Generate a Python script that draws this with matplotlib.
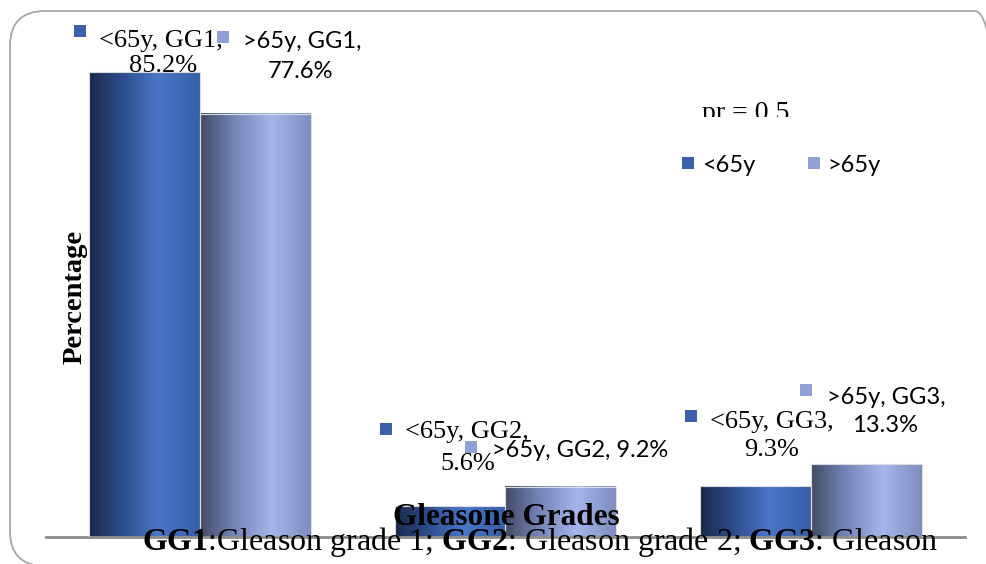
import numpy as np
import matplotlib.pyplot as plt
from matplotlib.patches import FancyBboxPatch, Rectangle
from matplotlib.colors import LinearSegmentedColormap
from matplotlib.transforms import IdentityTransform, Bbox

plt.rcParams['mathtext.fontset'] = 'custom'
plt.rcParams['mathtext.rm'] = 'Liberation Serif'
plt.rcParams['mathtext.bf'] = 'Liberation Serif:bold'

# data
grades = ['GG1', 'GG2', 'GG3']
under65 = [85.2, 5.6, 9.3]
over65 = [77.6, 9.2, 13.3]
series = ['<65y', '>65y']
pr_text = 'pr = 0.5'

W, H = 987, 564
ID = IdentityTransform()
SERIF = 'Liberation Serif'
SANS = ['Lato', 'DejaVu Sans']

fig = plt.figure(figsize=(W / 100, H / 100), dpi=100)
ax = fig.add_axes([46 / W, (H - 537) / H, (965 - 46) / W, (537 - 10) / H])

# rounded outer frame
frame = FancyBboxPatch((10, -2), 1000, 555, boxstyle='round,pad=0,rounding_size=35',
                       transform=ID, fill=False, ec='#a6a6a6', lw=1.3)
fig.add_artist(frame)

x = np.arange(len(grades))
w = 0.362
ax.set_xlim(-0.504, 2.504)
ax.set_ylim(0, 96.6)

cmap_u = LinearSegmentedColormap.from_list(
    'u', [(0, '#1a294a'), (0.3, '#2d4d8c'), (0.62, '#4b75c7'), (1, '#3560a6')])
cmap_o = LinearSegmentedColormap.from_list(
    'o', [(0, '#424a64'), (0.3, '#7383b6'), (0.65, '#a6b6ea'), (1, '#7d8dc0')])
grad = np.linspace(0, 1, 256)[None, :]

bars_u = ax.bar(x - w / 2, under65, w, color='none', edgecolor='#dcdcdc', lw=0.8, zorder=3)
bars_o = ax.bar(x + w / 2, over65, w, color='none', edgecolor='#dcdcdc', lw=0.8, zorder=3)
for bars, cm in [(bars_u, cmap_u), (bars_o, cmap_o)]:
    for b in bars:
        x0, h = b.get_x(), b.get_height()
        ax.imshow(grad, extent=[x0, x0 + b.get_width(), 0, h], aspect='auto', cmap=cm, zorder=2)
ax.set_xlim(-0.504, 2.504)
ax.set_ylim(0, 96.6)

for s in ['top', 'right', 'left']:
    ax.spines[s].set_visible(False)
ax.spines['bottom'].set_color('#8c8c8c')
ax.spines['bottom'].set_linewidth(2)
ax.set_xticks([])
ax.set_yticks([])
ax.patch.set_alpha(0)

col_u = '#3c61aa'
col_o = '#8fa1d4'


def square(ix, iy, color):
    fig.add_artist(Rectangle((ix - 6, H - iy - 6), 12, 12, transform=ID, color=color, lw=0))


def img_text(ix, iy, s, **kw):
    return fig.text(ix, H - iy, s, transform=ID, va='baseline', **kw)


# data labels: offsets (image px) from bar top centre
offs_u = [((-65, -41), (-46, -25), (18, 0)),
          ((-64, -77), (-45, -68), (18, -36)),
          ((-65, -70), (-46, -58), (15.5, -30))]
offs_o = [((-32.5, -77), (-12.5, -66), (45.5, -36)),
          ((-90, -39.5), (-68.5, -30), None),
          ((-60.5, -74), (-39.5, -60), (19, -32))]

for i, g in enumerate(grades):
    for vals, bars, offs, name, col, fam, fs in [
            (under65, bars_u, offs_u, series[0], col_u, SERIF, 19),
            (over65, bars_o, offs_o, series[1], col_o, SANS, 17)]:
        b = bars[i]
        X, Y = ax.transData.transform((b.get_x() + b.get_width() / 2, vals[i]))
        ix, iy = X, H - Y
        sq, l1, l2 = offs[i]
        square(ix + sq[0], iy + sq[1], col)
        if l2 is None:
            img_text(ix + l1[0], iy + l1[1], f'{name}, {g}, {vals[i]}%', family=fam, fontsize=fs)
        else:
            img_text(ix + l1[0], iy + l1[1], f'{name}, {g},', family=fam, fontsize=fs)
            img_text(ix + l2[0], iy + l2[1], f'{vals[i]}%', family=fam, fontsize=fs, ha='center')

# legend
square(688, 163, col_u)
img_text(702, 172, series[0], family=SANS, fontsize=17)
square(814, 163, col_o)
img_text(827, 172, series[1], family=SANS, fontsize=17)

# p-value text, cut off at the bottom
t = img_text(702, 120, pr_text, family=SERIF, fontsize=20)
t.set_clip_box(Bbox.from_extents(0, H - 117, W, H))
t.set_clip_on(True)

# axis titles
fig.text(75, H - 297, 'Percentage', transform=ID, rotation=90, ha='center', va='center',
         family=SERIF, weight='bold', fontsize=20.5)
img_text(506, 525, 'Gleasone Grades', family=SERIF, weight='bold', fontsize=22.5, ha='center')
img_text(142, 550, r'$\mathbf{GG1}$:Gleason grade 1; $\mathbf{GG2}$: Gleason grade 2; '
         r'$\mathbf{GG3}$: Gleason', family=SERIF, fontsize=23)

fig.savefig('out.png', dpi=100)
